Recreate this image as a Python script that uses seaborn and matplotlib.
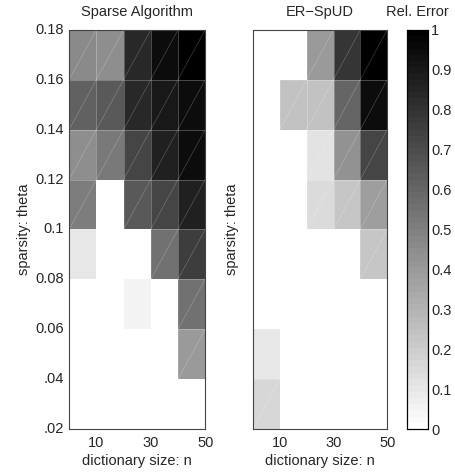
import numpy as np
import pandas as pd
import matplotlib
matplotlib.use("Agg")
import matplotlib.pyplot as plt
from matplotlib.patches import Rectangle
import seaborn as sns

# dictionary size n (columns) and sparsity theta (rows, top -> bottom)
dict_sizes = [10, 20, 30, 40, 50]
theta_rows = ["0.16-0.18", "0.14-0.16", "0.12-0.14", "0.10-0.12",
              "0.08-0.10", "0.06-0.08", "0.04-0.06", "0.02-0.04"]
theta_ticks = ["0.18", "0.16", "0.14", "0.12", "0.1", "0.08", "0.06", ".04", ".02"]
n_ticks = ["10", "", "30", "", "50"]

# relative error
sparse_alg = [
    [0.46, 0.45, 0.84, 0.94, 1.00],
    [0.62, 0.65, 0.84, 0.90, 0.95],
    [0.45, 0.52, 0.72, 0.87, 0.95],
    [0.50, 0.00, 0.65, 0.72, 0.87],
    [0.10, 0.00, 0.00, 0.56, 0.75],
    [0.00, 0.00, 0.06, 0.00, 0.56],
    [0.00, 0.00, 0.00, 0.00, 0.40],
    [0.00, 0.00, 0.00, 0.00, 0.00],
]
er_spud = [
    [0.00, 0.00, 0.40, 0.79, 1.00],
    [0.00, 0.24, 0.24, 0.60, 0.95],
    [0.00, 0.00, 0.12, 0.43, 0.72],
    [0.00, 0.00, 0.15, 0.22, 0.39],
    [0.00, 0.00, 0.00, 0.00, 0.22],
    [0.00, 0.00, 0.00, 0.00, 0.00],
    [0.10, 0.00, 0.00, 0.00, 0.00],
    [0.16, 0.00, 0.00, 0.00, 0.00],
]

sns.set_style("white")
plt.rcParams["font.family"] = ["Liberation Sans", "DejaVu Sans"]
FS = 10.5

fig = plt.figure(figsize=(4.55, 4.73), dpi=100)
ax1 = fig.add_axes([0.152, 0.093, 0.299, 0.844])
ax2 = fig.add_axes([0.556, 0.093, 0.295, 0.844])
cax = fig.add_axes([0.895, 0.093, 0.046, 0.844])

cmap = plt.get_cmap("gray_r", 64)


def panel(ax, values, title, show_labels, cbar):
    df = pd.DataFrame(values, index=theta_rows, columns=dict_sizes)
    sns.heatmap(df, ax=ax, cmap=cmap, vmin=0, vmax=1, cbar=cbar,
                cbar_ax=cax if cbar else None)
    arr = df.to_numpy()
    # MATLAB-style triangle seams on shaded cells
    for i in range(arr.shape[0]):
        for j in range(arr.shape[1]):
            if arr[i, j] > 0.01:
                ax.plot([j, j + 1], [i + 1, i], color=(1, 1, 1, 0.2), lw=0.6)
                ax.add_patch(Rectangle((j, i), 1, 1, fill=False,
                                       ec=(1, 1, 1, 0.16), lw=0.6))
    ax.set_xticks(np.arange(1, len(dict_sizes) + 1))
    ax.set_xticklabels(n_ticks, rotation=0)
    ax.set_yticks(np.arange(0, len(theta_rows) + 1))
    ax.set_yticklabels(theta_ticks if show_labels else [], rotation=0)
    ax.tick_params(direction="in", length=3, color="#666666", labelsize=FS,
                   pad=4)
    ax.tick_params(axis="x", pad=5)
    for s in ax.spines.values():
        s.set_visible(True)
        s.set_color("#444444")
        s.set_linewidth(0.8)
    ax.set_title(title, fontsize=FS, pad=10)
    ax.set_xlabel("dictionary size: n", fontsize=FS, labelpad=3)
    ax.set_ylabel("sparsity: theta", fontsize=FS, labelpad=3 if show_labels else 6)


panel(ax1, sparse_alg, "Sparse Algorithm", True, False)
panel(ax2, er_spud, "ER\u2212SpUD", False, True)

cax.set_yticks(np.linspace(0, 1, 11))
cax.set_yticklabels(["0", "0.1", "0.2", "0.3", "0.4", "0.5", "0.6", "0.7", "0.8", "0.9", "1"])
cax.tick_params(direction="in", length=3, color="#444444", labelsize=FS, pad=2,
                left=True, right=True)
for s in cax.spines.values():
    s.set_visible(True)
    s.set_color("black")
    s.set_linewidth(0.8)
cax.set_title("Rel. Error", fontsize=FS, pad=10)

fig.savefig("out.png", dpi=100)
